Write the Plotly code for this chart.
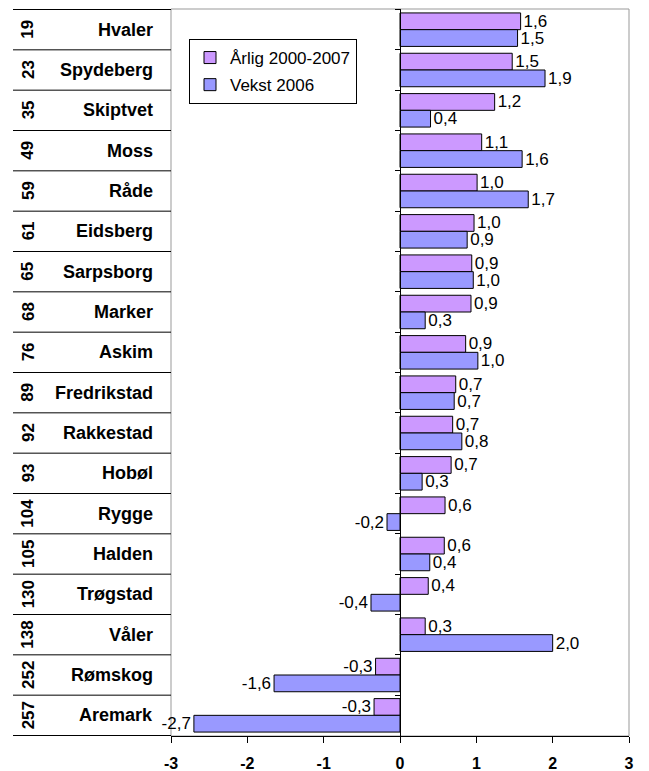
import plotly.graph_objects as go

ranks = ["19", "23", "35", "49", "59", "61", "65", "68", "76", "89", "92", "93", "104", "105", "130", "138", "252", "257"]
names = ["Hvaler", "Spydeberg", "Skiptvet", "Moss", "Råde", "Eidsberg", "Sarpsborg", "Marker", "Askim",
         "Fredrikstad", "Rakkestad", "Hobøl", "Rygge", "Halden", "Trøgstad", "Våler", "Rømskog", "Aremark"]
arlig = [1.58, 1.47, 1.24, 1.07, 1.01, 0.97, 0.94, 0.93, 0.86, 0.73, 0.69, 0.67, 0.59, 0.58, 0.37, 0.33, -0.32, -0.34]
vekst = [1.54, 1.90, 0.40, 1.60, 1.68, 0.88, 0.96, 0.33, 1.02, 0.71, 0.81, 0.29, -0.17, 0.39, -0.38, 2.00, -1.65, -2.70]
series_names = ["Årlig 2000-2007", "Vekst 2006"]
series_colors = ["#CC99FF", "#9999FF"]
x_ticks = [-3, -2, -1, 0, 1, 2, 3]

FONT = "Arial, Liberation Sans, sans-serif"


def fmt(v):
    return f"{v:.1f}".replace(".", ",")


fig = go.Figure()
for i, (nm, vals, col) in enumerate(zip(series_names, [arlig, vekst], series_colors)):
    fig.add_trace(go.Bar(
        y=names, x=vals, orientation="h", name=nm, legendgroup=f"g{i}",
        marker=dict(color=col, line=dict(color="black", width=1)),
        text=[fmt(v) for v in vals], textposition="outside", constraintext="none",
        textfont=dict(family=FONT, size=17, color="black"),
        cliponaxis=False,
    ))

# page has an 8px body margin; figure coordinates = page coordinates - 8
W, H = 641, 763
ml, mr, mt, mb = 163, 20, 1, 35
pw = W - ml - mr
ph = H - mt - mb


def px2paper(px):
    return (px - ml) / pw


shapes = []
for i in range(len(names) + 1):
    shapes.append(dict(type="line", xref="paper", yref="y", x0=px2paper(5), x1=0,
                       y0=i - 0.5, y1=i - 0.5, line=dict(color="black", width=1)))
shapes.append(dict(type="rect", xref="paper", yref="paper", x0=0, x1=1, y0=0, y1=1,
                   line=dict(color="#999999", width=1), layer="below"))

annotations = []
for r, n in zip(ranks, names):
    annotations.append(dict(xref="paper", yref="y", x=px2paper(147), y=n, text=f"<b>{n}</b>",
                            showarrow=False, xanchor="right", yanchor="middle",
                            font=dict(family=FONT, size=18, color="black")))
    annotations.append(dict(xref="paper", yref="y", x=px2paper(20), y=n, text=f"<b>{r}</b>",
                            showarrow=False, xanchor="center", yanchor="middle", textangle=-90,
                            font=dict(family=FONT, size=17, color="black")))

fig.update_layout(
    width=W, height=H,
    margin=dict(l=ml, r=mr, t=mt, b=mb, autoexpand=False),
    paper_bgcolor="white", plot_bgcolor="white",
    barmode="group", bargap=0.17, bargroupgap=0,
    font=dict(family=FONT, color="black"),
    showlegend=True,
    legend=dict(x=px2paper(181), y=1 - (31 - mt) / ph, xanchor="left", yanchor="top",
                bgcolor="white", bordercolor="black", borderwidth=1,
                font=dict(family=FONT, size=17, color="black"), traceorder="grouped",
                itemwidth=30, tracegroupgap=2),
    xaxis=dict(range=[-3, 3], tickvals=x_ticks, ticktext=[f"<b>{t}</b>" for t in x_ticks],
               showgrid=False, zeroline=False, showline=True, linecolor="black", linewidth=1,
               ticks="outside", ticklen=6, tickcolor="black", ticklabelstandoff=7,
               automargin=False,
               tickfont=dict(family=FONT, size=16, color="black")),
    yaxis=dict(autorange="reversed", type="category", showticklabels=False,
               anchor="free", position=0.5, showline=True, linecolor="black", linewidth=1,
               ticks="outside", ticklen=5, tickcolor="black", tickson="boundaries",
               showgrid=False, zeroline=False, automargin=False),
    shapes=shapes, annotations=annotations,
)

fig.write_html("out.html")
